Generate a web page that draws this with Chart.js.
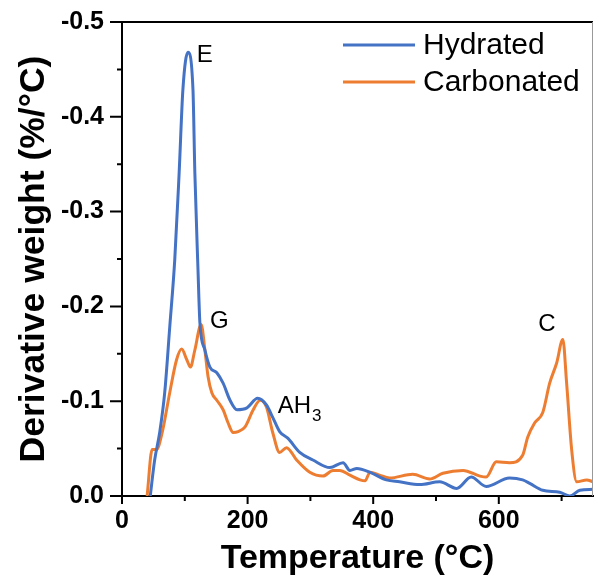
<!DOCTYPE html>
<html>
<head>
<meta charset="utf-8">
<script src="https://cdn.jsdelivr.net/npm/chart.js@4"></script>
<style>
  body { margin: 0; background: #fff; }
  #wrap { width: 595px; height: 581px; }
</style>
</head>
<body>
<div id="wrap"><canvas id="dtg"></canvas></div>
<script>
// temperature (°C) and derivative weight (%/°C)
const hydratedTemp = [45, 52, 60, 68, 76, 84, 91, 97, 105, 113, 116, 121, 124, 132, 140, 151, 161, 172, 183, 199,
  216, 230, 240, 251, 264, 283, 304, 331, 352, 363, 374, 395, 421, 442, 474, 506, 533, 556, 580, 617,
  638, 650, 670, 697, 713, 729, 750];
const hydratedDTG = [0, -0.038, -0.067, -0.109, -0.178, -0.249, -0.341, -0.429, -0.468, -0.429, -0.341, -0.239, -0.183, -0.154, -0.136, -0.13, -0.119, -0.101, -0.091, -0.093,
  -0.103, -0.096, -0.083, -0.068, -0.061, -0.046, -0.038, -0.03, -0.035, -0.027, -0.029, -0.025, -0.017, -0.015, -0.012, -0.015, -0.008, -0.02, -0.01, -0.019,
  -0.017, -0.013, -0.006, -0.004, 0, -0.006, -0.007];

const carbonatedTemp = [40, 48, 55, 64, 76, 87, 95, 103, 109, 116, 126, 132, 137, 143, 151, 161, 169, 177, 185, 196,
  209, 220, 230, 240, 251, 262, 278, 299, 320, 336, 347, 363, 379, 387, 395, 410, 426, 463, 490, 511,
  543, 570, 580, 596, 617, 638, 646, 657, 670, 681, 692, 702, 708, 716, 724, 740, 750];
const carbonatedDTG = [0, -0.049, -0.049, -0.067, -0.109, -0.144, -0.155, -0.144, -0.136, -0.154, -0.181, -0.154, -0.126, -0.109, -0.101, -0.091, -0.077, -0.067, -0.068, -0.073,
  -0.091, -0.101, -0.094, -0.067, -0.046, -0.051, -0.038, -0.025, -0.021, -0.027, -0.027, -0.022, -0.017, -0.016, -0.025, -0.022, -0.019, -0.023, -0.018, -0.024,
  -0.027, -0.021, -0.02, -0.036, -0.035, -0.043, -0.062, -0.077, -0.088, -0.119, -0.14, -0.165, -0.119, -0.049, -0.015, -0.017, -0.015];

const seriesNames = ["Hydrated", "Carbonated"];
const seriesColors = ["#4472c4", "#ed7d31"];

const xMajor = [0, 200, 400, 600];
const xMinor = [100, 300, 500, 700];
const yMajor = [0, -0.1, -0.2, -0.3, -0.4, -0.5];
const yMinor = [-0.05, -0.15, -0.25, -0.35, -0.45];

// peak labels: [text, subscript, temperature, value]
const peakLabels = [
  ["E", "", 119, -0.465],
  ["G", "", 140, -0.184],
  ["AH", "3", 248, -0.095],
  ["C", "", 663, -0.181]
];

const FONT = "'Liberation Sans', Arial, sans-serif";

function toPoints(xs, ys) {
  return xs.map((x, i) => ({ x: x, y: ys[i] }));
}

const extras = {
  id: "extras",
  afterDraw(chart) {
    const ctx = chart.ctx;
    const xs = chart.scales.x;
    const ys = chart.scales.y;
    const area = chart.chartArea;

    ctx.save();
    // top + right frame
    ctx.strokeStyle = "#000";
    ctx.lineWidth = 2;
    ctx.beginPath();
    ctx.moveTo(area.left, area.top);
    ctx.lineTo(area.right, area.top);
    ctx.stroke();
    ctx.strokeStyle = "#999";
    ctx.lineWidth = 1;
    ctx.beginPath();
    ctx.moveTo(area.right - 0.5, area.top);
    ctx.lineTo(area.right - 0.5, area.bottom);
    ctx.stroke();

    // tick marks
    ctx.strokeStyle = "#000";
    ctx.lineWidth = 2;
    ctx.beginPath();
    xMajor.forEach(v => { const p = xs.getPixelForValue(v); ctx.moveTo(p, area.bottom); ctx.lineTo(p, area.bottom + 8); });
    xMinor.forEach(v => { const p = xs.getPixelForValue(v); ctx.moveTo(p, area.bottom); ctx.lineTo(p, area.bottom + 5); });
    yMajor.forEach(v => { const p = ys.getPixelForValue(v); ctx.moveTo(area.left, p); ctx.lineTo(area.left - 12, p); });
    yMinor.forEach(v => { const p = ys.getPixelForValue(v); ctx.moveTo(area.left, p); ctx.lineTo(area.left - 5, p); });
    ctx.stroke();

    // peak labels
    ctx.fillStyle = "#000";
    ctx.textBaseline = "middle";
    ctx.textAlign = "left";
    peakLabels.forEach(([t, sub, tx, vy]) => {
      const px = xs.getPixelForValue(tx);
      const py = ys.getPixelForValue(vy);
      ctx.font = "24px " + FONT;
      ctx.fillText(t, px, py);
      if (sub) {
        const w = ctx.measureText(t).width;
        ctx.font = "17px " + FONT;
        ctx.fillText(sub, px + w + 1, py + 10);
      }
    });

    // legend
    ctx.font = "30px " + FONT;
    chart.data.datasets.forEach((ds, i) => {
      const y = area.top + 23 + i * 37;
      ctx.strokeStyle = ds.borderColor;
      ctx.lineWidth = 3;
      ctx.beginPath();
      ctx.moveTo(343, y);
      ctx.lineTo(415, y);
      ctx.stroke();
      ctx.fillStyle = "#000";
      ctx.fillText(ds.label, 423, y + 1);
    });
    ctx.restore();
  }
};

new Chart(document.getElementById("dtg"), {
  type: "line",
  data: {
    datasets: [
      {
        label: seriesNames[0],
        data: toPoints(hydratedTemp, hydratedDTG),
        borderColor: seriesColors[0],
        borderWidth: 3,
        pointRadius: 0,
        cubicInterpolationMode: "monotone"
      },
      {
        label: seriesNames[1],
        data: toPoints(carbonatedTemp, carbonatedDTG),
        borderColor: seriesColors[1],
        borderWidth: 3,
        pointRadius: 0,
        cubicInterpolationMode: "monotone"
      }
    ]
  },
  options: {
    responsive: true,
    maintainAspectRatio: false,
    animation: false,
    layout: { padding: { top: 22, right: 2, left: 0, bottom: 0 } },
    plugins: {
      legend: { display: false },
      tooltip: { enabled: false }
    },
    scales: {
      x: {
        type: "linear",
        min: 0,
        max: 750,
        afterFit(scale) {
          scale.height = 85;
          scale.paddingLeft = 0;
          scale.paddingRight = 0;
        },
        afterBuildTicks(scale) { scale.ticks = xMajor.map(v => ({ value: v })); },
        grid: { display: false, drawTicks: false },
        border: { display: true, color: "#000", width: 2 },
        ticks: {
          padding: 10,
          color: "#000",
          font: { family: FONT, size: 25, weight: "bold" }
        },
        title: {
          display: true,
          text: "Temperature (°C)",
          color: "#000",
          padding: { top: 0, bottom: 2 },
          font: { family: FONT, size: 34, weight: "bold" }
        }
      },
      y: {
        type: "linear",
        min: -0.5,
        max: 0,
        reverse: true,
        afterFit(scale) {
          scale.width = 122;
          scale.paddingTop = 0;
          scale.paddingBottom = 0;
        },
        afterBuildTicks(scale) { scale.ticks = yMajor.map(v => ({ value: v })); },
        grid: { display: false, drawTicks: false },
        border: { display: true, color: "#000", width: 2 },
        ticks: {
          padding: 18,
          color: "#000",
          font: { family: FONT, size: 25, weight: "bold" },
          callback: v => v.toFixed(1)
        },
        title: {
          display: true,
          text: "Derivative weight (%/°C)",
          color: "#000",
          padding: { top: 13, bottom: 0 },
          font: { family: FONT, size: 35.5, weight: "bold" }
        }
      }
    }
  },
  plugins: [extras]
});
</script>
</body>
</html>
